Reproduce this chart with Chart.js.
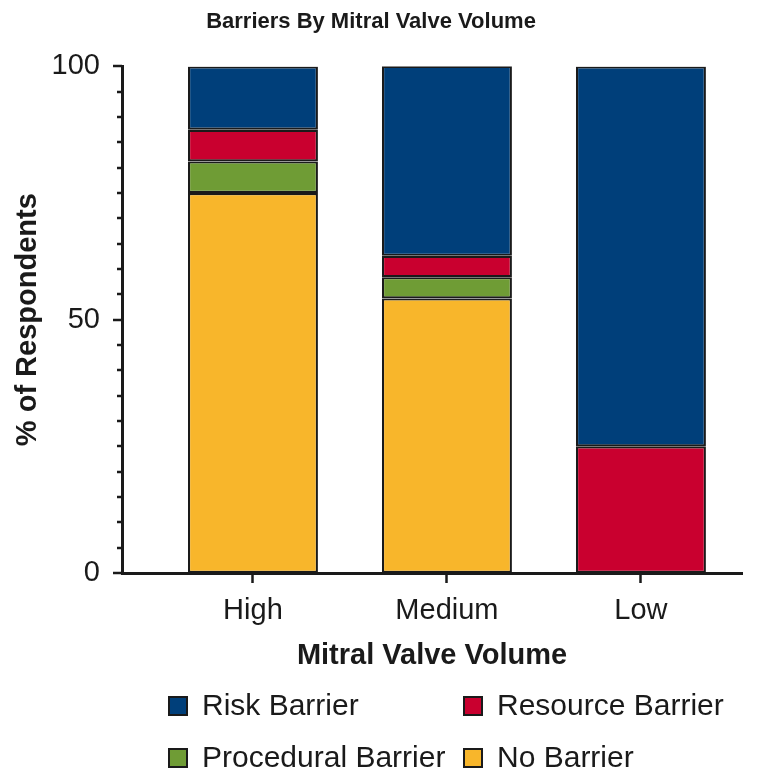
<!DOCTYPE html>
<html>
<head>
<meta charset="utf-8">
<title>Barriers By Mitral Valve Volume</title>
<script src="https://cdn.jsdelivr.net/npm/chart.js@4/dist/chart.umd.min.js"></script>
<style>
  html, body { margin: 0; padding: 0; background: #ffffff; }
  #wrap { width: 758px; height: 777px; }
</style>
</head>
<body>
<div id="wrap"><canvas id="chart" width="758" height="777"></canvas></div>
<script>
// Mitral valve volume groups
const categories = ['High', 'Medium', 'Low'];

// Share of respondents (%) per barrier type, stacked from the bottom up
const noBarrier = [75, 54.2, 0];
const proceduralBarrier = [6.25, 4.2, 0];
const resourceBarrier = [6.25, 4.2, 25];
const riskBarrier = [12.5, 37.5, 75];

// Y axis: labelled values and minor tick step
const yTickLabels = [0, 50, 100];
const yMinorStep = 5;

const FONT = "'Liberation Sans', Arial, Helvetica, sans-serif";
const INK = '#1a1a1a';

const seriesDefs = [
  { label: 'No Barrier', values: noBarrier, color: '#f8b62b' },
  { label: 'Procedural Barrier', values: proceduralBarrier, color: '#6f9c35' },
  { label: 'Resource Barrier', values: resourceBarrier, color: '#c9002f' },
  { label: 'Risk Barrier', values: riskBarrier, color: '#003f7a' }
];

const datasets = seriesDefs.map(s => ({
  label: s.label,
  data: s.values.map((v, i) => ({ x: i, y: v })),
  backgroundColor: s.color,
  borderColor: INK,
  borderWidth: 2.2,
  borderSkipped: false,
  inflateAmount: 0,
  stack: 'volume',
  categoryPercentage: 1,
  barPercentage: 0.67
}));

// Tick marks on the y axis: longer at labelled values, shorter in between
const yTickMarks = {
  id: 'yTickMarks',
  afterDraw(chart) {
    const y = chart.scales.y;
    const left = chart.chartArea.left;
    const ctx = chart.ctx;
    ctx.save();
    ctx.strokeStyle = INK;
    ctx.lineWidth = 2.5;
    for (let v = y.min; v <= y.max; v += yMinorStep) {
      const py = Math.round(y.getPixelForValue(v));
      const len = yTickLabels.includes(v) ? 9 : 5;
      ctx.beginPath();
      ctx.moveTo(left - len, py);
      ctx.lineTo(left, py);
      ctx.stroke();
    }
    ctx.restore();
  }
};

// Two-column legend grid under the axis
const gridLegend = {
  id: 'gridLegend',
  afterDraw(chart) {
    const ctx = chart.ctx;
    const items = chart.data.datasets.slice().reverse();
    const colX = [168, 463];
    const rowY = [706, 758];
    const box = 20;
    ctx.save();
    ctx.font = `30px ${FONT}`;
    ctx.textBaseline = 'middle';
    ctx.textAlign = 'left';
    items.forEach((ds, i) => {
      const x = colX[i % 2];
      const cy = rowY[Math.floor(i / 2)];
      ctx.fillStyle = ds.backgroundColor;
      ctx.fillRect(x, cy - box / 2, box, box);
      ctx.strokeStyle = INK;
      ctx.lineWidth = 2;
      ctx.strokeRect(x + 1, cy - box / 2 + 1, box - 2, box - 2);
      ctx.fillStyle = INK;
      ctx.fillText(ds.label, x + 34, cy + 1);
    });
    ctx.restore();
  }
};

new Chart(document.getElementById('chart'), {
  type: 'bar',
  data: { datasets },
  plugins: [yTickMarks, gridLegend],
  options: {
    responsive: false,
    animation: false,
    events: [],
    layout: { padding: { left: 0, right: 16, top: 0, bottom: 95 } },
    plugins: {
      legend: { display: false },
      tooltip: { enabled: false },
      title: {
        display: true,
        text: 'Barriers By Mitral Valve Volume',
        color: INK,
        font: { family: FONT, size: 22, weight: 'bold' },
        padding: { top: 9, bottom: 31 }
      }
    },
    scales: {
      x: {
        type: 'linear',
        stacked: true,
        offset: false,
        min: -0.675,
        max: 2.521,
        afterFit(scale) { scale.height = 109; },
        ticks: {
          stepSize: 1,
          includeBounds: false,
          autoSkip: false,
          maxRotation: 0,
          padding: 11,
          color: INK,
          font: { family: FONT, size: 29 },
          callback: v => categories[v] ?? ''
        },
        grid: {
          display: true,
          offset: false,
          drawOnChartArea: false,
          drawTicks: true,
          tickLength: 10,
          tickWidth: 2.5,
          tickColor: INK
        },
        border: { display: true, color: INK, width: 3 },
        title: {
          display: true,
          text: 'Mitral Valve Volume',
          color: INK,
          font: { family: FONT, size: 29, weight: 'bold' },
          padding: { top: 0, bottom: 9 }
        }
      },
      y: {
        stacked: true,
        min: 0,
        max: 100,
        afterFit(scale) { scale.width = 122; },
        ticks: {
          stepSize: yMinorStep,
          autoSkip: false,
          padding: 22,
          color: INK,
          font: { family: FONT, size: 29 },
          callback: v => yTickLabels.includes(v) ? String(v) : ''
        },
        grid: { display: false, drawTicks: false },
        border: { display: true, color: INK, width: 3 },
        title: {
          display: true,
          text: '% of Respondents',
          color: INK,
          font: { family: FONT, size: 29, weight: 'bold' },
          padding: { top: 11, bottom: 0 }
        }
      }
    }
  }
});
</script>
</body>
</html>
